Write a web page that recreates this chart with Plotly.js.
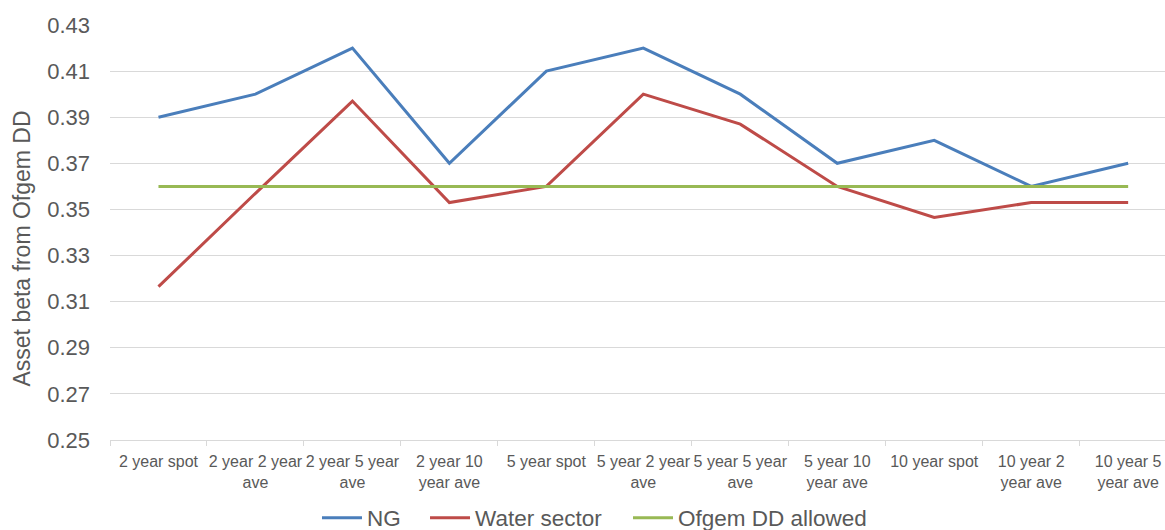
<!DOCTYPE html>
<html>
<head>
<meta charset="utf-8">
<script src="https://cdn.plot.ly/plotly-3.0.1.min.js"></script>
<style>
  html, body { margin: 0; padding: 0; background: #fff; overflow: hidden; }
  #chart { width: 1165px; height: 530px; }
</style>
</head>
<body>
<div id="chart"></div>
<script>
// Estimation windows for the asset beta comparison
const categories = [
  "2 year spot", "2 year 2 year<br>ave", "2 year 5 year<br>ave", "2 year 10<br>year ave",
  "5 year spot", "5 year 2 year<br>ave", "5 year 5 year<br>ave", "5 year 10<br>year ave",
  "10 year spot", "10 year 2<br>year ave", "10 year 5<br>year ave"
];

const ngBeta    = [0.39, 0.40, 0.42, 0.37, 0.41, 0.42, 0.40, 0.37, 0.38, 0.36, 0.37];
const waterBeta = [0.3165, 0.357, 0.397, 0.353, 0.36, 0.40, 0.387, 0.36, 0.3465, 0.353, 0.353];
const ofgemBeta = [0.36, 0.36, 0.36, 0.36, 0.36, 0.36, 0.36, 0.36, 0.36, 0.36, 0.36];

const yTickValues = [0.25, 0.27, 0.29, 0.31, 0.33, 0.35, 0.37, 0.39, 0.41, 0.43];
const yTitle = "Asset beta from Ofgem DD";

const textColor = "#595959";
const gridColor = "#d9d9d9";
const fontFamily = "Liberation Sans, Arial, sans-serif";

function lineTrace(name, values, color, legendId) {
  return {
    type: "scatter",
    mode: "lines",
    name: name,
    x: categories,
    y: values,
    legend: legendId,
    line: { color: color, width: 3 },
    hoverinfo: "x+y+name"
  };
}

const traces = [
  lineTrace("NG", ngBeta, "#4a7ebb", "legend"),
  lineTrace("Water sector", waterBeta, "#be4b48", "legend2"),
  lineTrace("Ofgem DD allowed", ofgemBeta, "#98b954", "legend3")
];

// one legend box per series so the entries can be spaced out along the bottom
function legendBox(x) {
  return {
    orientation: "h",
    x: x,
    xanchor: "left",
    y: -0.188,
    yanchor: "middle",
    font: { size: 22.5, family: fontFamily, color: textColor },
    itemwidth: 40,
    bgcolor: "rgba(0,0,0,0)",
    borderwidth: 0
  };
}

const layout = {
  width: 1165,
  height: 530,
  margin: { l: 110, r: 0, t: 25, b: 90, autoexpand: false },
  paper_bgcolor: "#ffffff",
  plot_bgcolor: "#ffffff",
  font: { family: fontFamily, color: textColor },
  showlegend: true,
  legend: legendBox(0.1962),
  legend2: legendBox(0.2986),
  legend3: legendBox(0.4910),
  xaxis: {
    type: "category",
    range: [-0.5, 10.38],
    tickson: "boundaries",
    ticks: "outside",
    ticklen: 5,
    tickcolor: gridColor,
    tickangle: 0,
    showline: true,
    linecolor: gridColor,
    linewidth: 1,
    showgrid: false,
    zeroline: false,
    automargin: false,
    ticklabelstandoff: 7,
    tickfont: { size: 16, color: textColor },
    fixedrange: true
  },
  yaxis: {
    range: [0.25, 0.43],
    tickvals: yTickValues,
    tickformat: ".2f",
    showgrid: true,
    gridcolor: gridColor,
    gridwidth: 1,
    showline: false,
    zeroline: false,
    ticks: "",
    automargin: false,
    ticklabelstandoff: 19,
    tickfont: { size: 22, color: textColor },
    fixedrange: true
  },
  // vertical axis caption, set a little above the axis middle
  annotations: [{
    text: yTitle,
    xref: "paper",
    yref: "paper",
    x: -0.0834,
    y: 0.4614,
    xanchor: "center",
    yanchor: "middle",
    textangle: -90,
    showarrow: false,
    font: { size: 23, family: fontFamily, color: textColor }
  }]
};

Plotly.newPlot("chart", traces, layout, { displayModeBar: false, staticPlot: true });
</script>
</body>
</html>
